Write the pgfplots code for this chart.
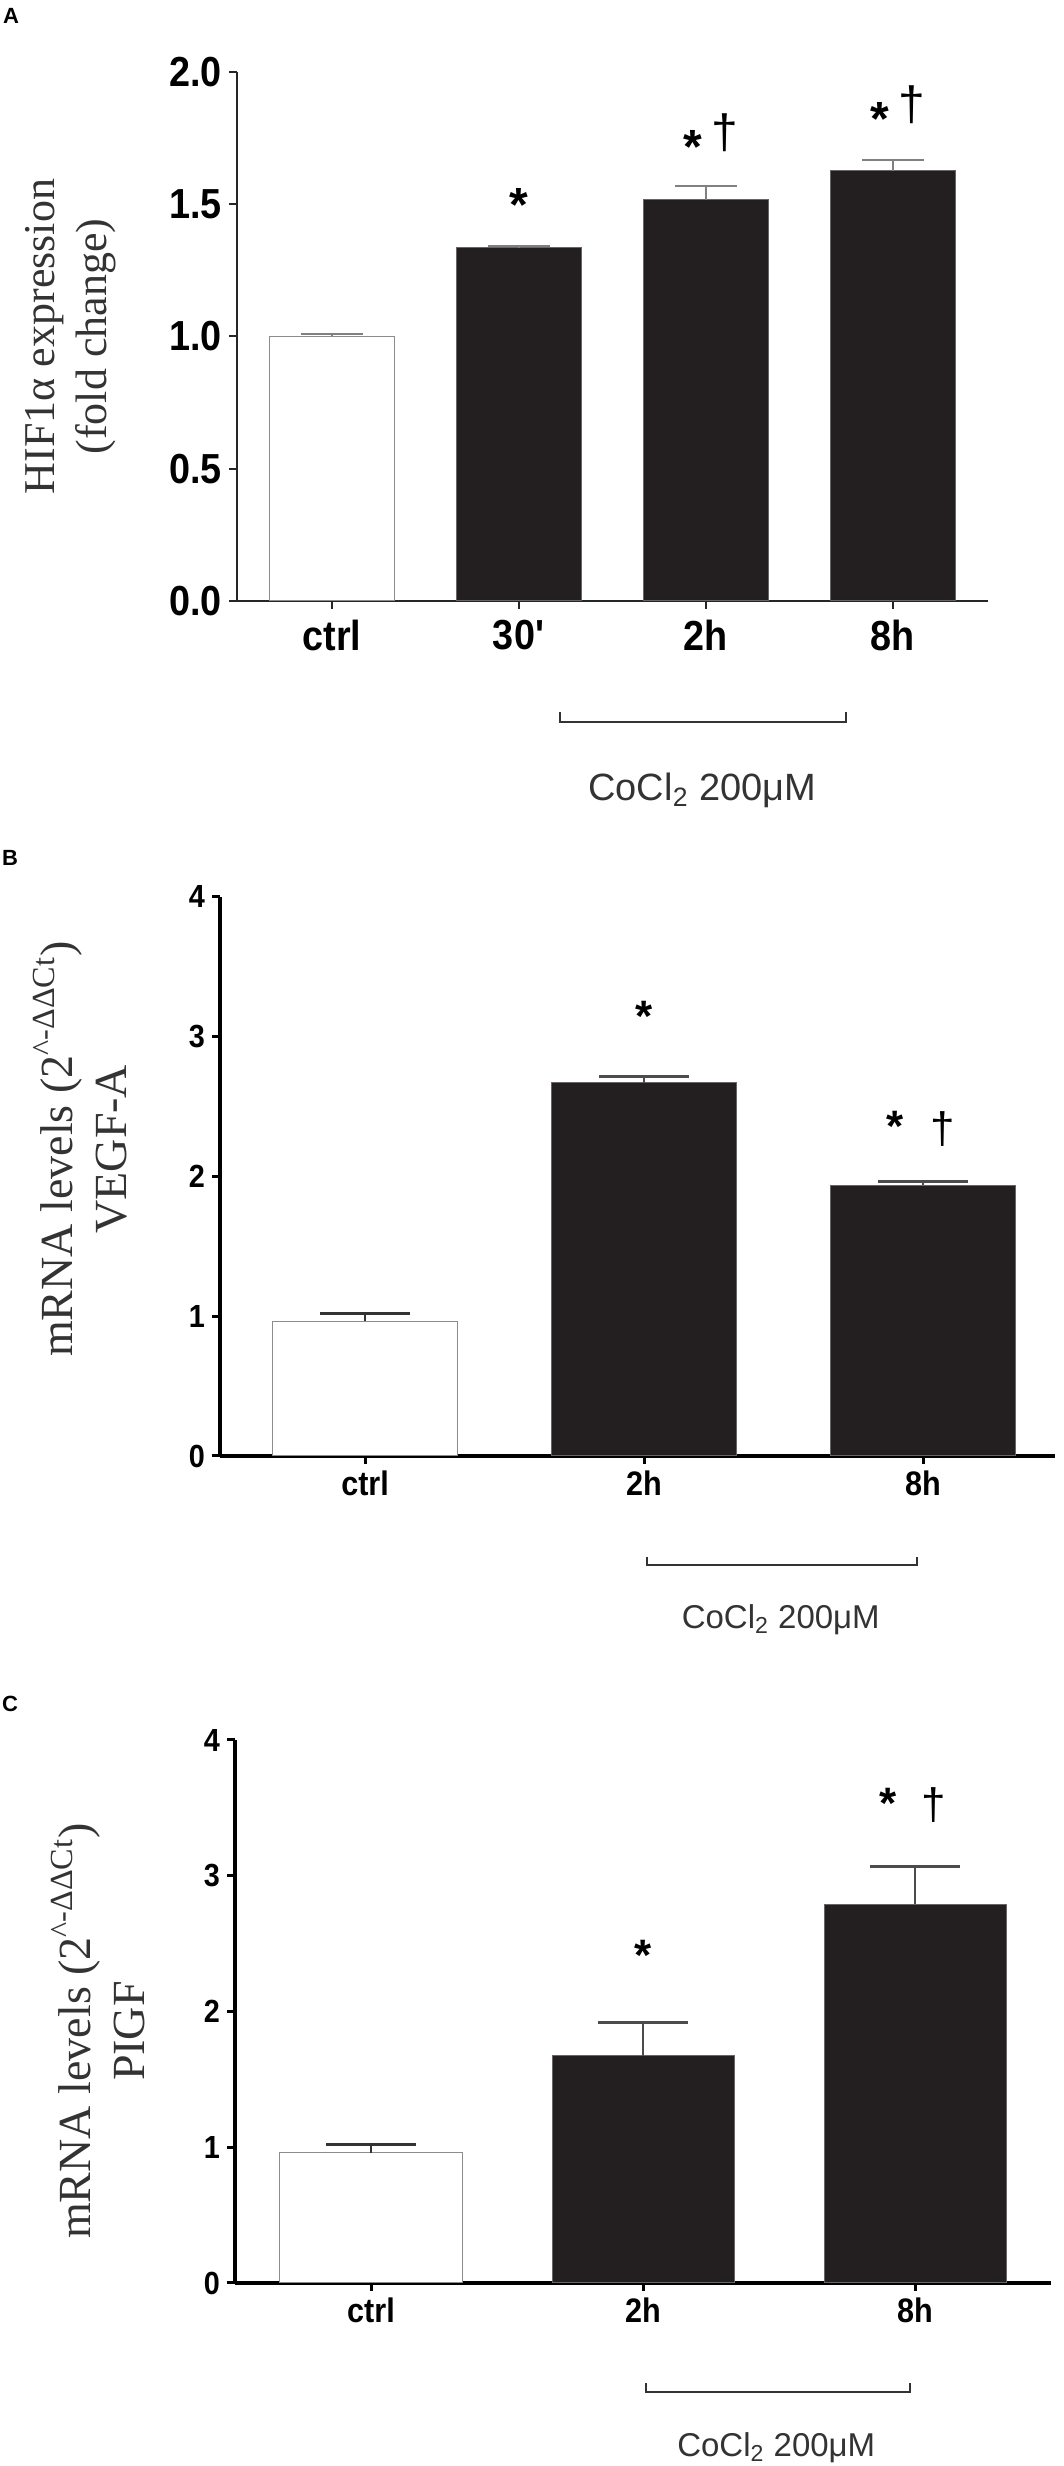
\documentclass[border=0pt]{standalone}
\usepackage{pgfplots}
\pgfplotsset{compat=1.18}
\usepackage{fontspec}
\setmainfont{Liberation Serif}
\newfontfamily\sansf{Liberation Sans}
\newfontfamily\tickf[FakeStretch=0.9]{Liberation Sans}
\definecolor{barblack}{HTML}{231F20}
\definecolor{txtgray}{HTML}{333333}

\pgfplotsset{
  panel/.style={
    scale only axis,
    axis x line=bottom, axis y line=left,
    ymin=0, clip=false,
    ybar, bar shift=0pt,
    tick align=outside,
    major tick length=4pt,
    xtick pos=bottom, ytick pos=left,
    anchor=south west,
  },
  whitebar/.style={fill=white, draw=black!45, line width=0.5pt},
  blackbar/.style={fill=barblack, draw=black!60, line width=0.5pt},
}

\begin{document}
\begin{tikzpicture}
\useasboundingbox (0,0) rectangle (532pt,1233pt);

% ---------- A ----------
\begin{axis}[panel,
  at={(118.5pt,932.5pt)}, width=375.5pt, height=264.5pt,
  xmin=-0.508, xmax=3.508, ymax=2,
  bar width=62.5pt,
  axis line style={-, line width=1pt, draw=black!85},
  tick style={line width=1pt, draw=black!85},
  xtick={0,1,2,3}, xticklabels={ctrl,30\textquotesingle,2h,8h},
  ytick={0,0.5,1,1.5,2}, yticklabels={0.0,0.5,1.0,1.5,2.0},
  ticklabel style={font=\tickf\bfseries\fontsize{21}{24}\selectfont},
  xticklabel style={yshift=-2pt},
  ylabel={HIF1α expression\\(fold change)},
  ylabel style={at={(rel axis cs:-0.222,0.5)}, anchor=center, rotate=0,
    align=center, font=\fontsize{22}{26}\selectfont, text=black!80},
]
\addplot[whitebar, error bars/.cd, y dir=plus, y explicit, error mark=|,
  error bar style={line width=1pt, draw=gray},
  error mark options={line width=1pt, draw=gray, mark size=15.5pt}]
  coordinates {(0,1.0) +- (0,0.008)};
\addplot[blackbar, error bars/.cd, y dir=plus, y explicit, error mark=|,
  error bar style={line width=1pt, draw=gray},
  error mark options={line width=1pt, draw=gray, mark size=15.5pt}]
  coordinates {(1,1.335) +- (0,0.007) (2,1.516) +- (0,0.053) (3,1.626) +- (0,0.041)};
\node[anchor=north, inner sep=0, font=\sansf\bfseries\fontsize{24}{24}\selectfont] at (axis cs:1,1.561) {*};
\node[anchor=north, inner sep=0, font=\sansf\bfseries\fontsize{24}{24}\selectfont] at (axis cs:1.93,1.781) {*};
\node[anchor=north, inner sep=0, font=\sansf\fontsize{24}{24}\selectfont] at (axis cs:2.10,1.845) {†};
\node[anchor=north, inner sep=0, font=\sansf\bfseries\fontsize{24}{24}\selectfont] at (axis cs:2.93,1.885) {*};
\node[anchor=north, inner sep=0, font=\sansf\fontsize{24}{24}\selectfont] at (axis cs:3.10,1.950) {†};
\draw[line width=1pt, txtgray] (axis cs:1.22,-0.42) -- (axis cs:1.22,-0.457) -- (axis cs:2.75,-0.457) -- (axis cs:2.75,-0.42);
\node[font=\sansf\fontsize{19}{22}\selectfont, text=txtgray] at (axis cs:1.98,-0.715) {CoCl\textsubscript{2} 200μM};
\end{axis}

% ---------- B ----------
\begin{axis}[panel,
  at={(110pt,505pt)}, width=417.5pt, height=279.5pt,
  xmin=-0.52, xmax=2.473, ymax=4,
  bar width=92.5pt,
  axis line style={-, line width=2pt, draw=black},
  tick style={line width=1.5pt, draw=black},
  xtick={0,1,2}, xticklabels={ctrl,2h,8h},
  ytick={0,1,2,3,4}, yticklabels={0,1,2,3,4},
  xticklabel style={font=\tickf\bfseries\fontsize{17}{20}\selectfont},
  yticklabel style={font=\tickf\bfseries\fontsize{16}{19}\selectfont},
  ylabel={mRNA levels (2\textsuperscript{\textasciicircum-ΔΔCt})\\VEGF-A},
  ylabel style={at={(rel axis cs:-0.168,0.549)}, anchor=center,
    align=center, font=\fontsize{23}{27}\selectfont, text=black!80},
]
\addplot[whitebar, error bars/.cd, y dir=plus, y explicit, error mark=|,
  error bar style={line width=0.8pt, draw=black!80},
  error mark options={line width=1.4pt, draw=black!80, mark size=22.5pt}]
  coordinates {(0,0.965) +- (0,0.055)};
\addplot[blackbar, error bars/.cd, y dir=plus, y explicit, error mark=|,
  error bar style={line width=0.8pt, draw=black!70},
  error mark options={line width=1.4pt, draw=black!70, mark size=22.5pt}]
  coordinates {(1,2.67) +- (0,0.045) (2,1.936) +- (0,0.03)};
\node[anchor=north, inner sep=0, font=\sansf\bfseries\fontsize{22}{22}\selectfont] at (axis cs:1,3.26) {*};
\node[anchor=north, inner sep=0, font=\sansf\bfseries\fontsize{22}{22}\selectfont] at (axis cs:1.90,2.47) {*};
\node[anchor=north, inner sep=0, font=\sansf\fontsize{22}{22}\selectfont] at (axis cs:2.07,2.47) {†};
\draw[line width=1pt, txtgray] (axis cs:1.01,-0.72) -- (axis cs:1.01,-0.78) -- (axis cs:1.98,-0.78) -- (axis cs:1.98,-0.72);
\node[font=\sansf\fontsize{16.5}{20}\selectfont, text=txtgray] at (axis cs:1.49,-1.17) {CoCl\textsubscript{2} 200μM};
\end{axis}

% ---------- C ----------
\begin{axis}[panel,
  at={(117.5pt,91.5pt)}, width=408pt, height=271.5pt,
  xmin=-0.5, xmax=2.5, ymax=4,
  bar width=91pt,
  axis line style={-, line width=2pt, draw=black},
  tick style={line width=1.5pt, draw=black},
  xtick={0,1,2}, xticklabels={ctrl,2h,8h},
  ytick={0,1,2,3,4}, yticklabels={0,1,2,3,4},
  xticklabel style={font=\tickf\bfseries\fontsize{17}{20}\selectfont},
  yticklabel style={font=\tickf\bfseries\fontsize{16}{19}\selectfont},
  ylabel={mRNA levels (2\textsuperscript{\textasciicircum-ΔΔCt})\\PIGF},
  ylabel style={at={(rel axis cs:-0.168,0.464)}, anchor=center,
    align=center, font=\fontsize{23}{27}\selectfont, text=black!80},
]
\addplot[whitebar, error bars/.cd, y dir=plus, y explicit, error mark=|,
  error bar style={line width=0.8pt, draw=black!80},
  error mark options={line width=1.4pt, draw=black!80, mark size=22.5pt}]
  coordinates {(0,0.96) +- (0,0.06)};
\addplot[blackbar, error bars/.cd, y dir=plus, y explicit, error mark=|,
  error bar style={line width=0.8pt, draw=black!70},
  error mark options={line width=1.4pt, draw=black!70, mark size=22.5pt}]
  coordinates {(1,1.675) +- (0,0.245) (2,2.79) +- (0,0.28)};
\node[anchor=north, inner sep=0, font=\sansf\bfseries\fontsize{22}{22}\selectfont] at (axis cs:1,2.53) {*};
\node[anchor=north, inner sep=0, font=\sansf\bfseries\fontsize{22}{22}\selectfont] at (axis cs:1.90,3.65) {*};
\node[anchor=north, inner sep=0, font=\sansf\fontsize{22}{22}\selectfont] at (axis cs:2.07,3.65) {†};
\draw[line width=1pt, txtgray] (axis cs:1.01,-0.74) -- (axis cs:1.01,-0.80) -- (axis cs:1.98,-0.80) -- (axis cs:1.98,-0.74);
\node[font=\sansf\fontsize{16.5}{20}\selectfont, text=txtgray] at (axis cs:1.49,-1.21) {CoCl\textsubscript{2} 200μM};
\end{axis}

% panel letters
\node[font=\sansf\bfseries\fontsize{11}{13}\selectfont] at (5.5pt,1225pt) {A};
\node[font=\sansf\bfseries\fontsize{11}{13}\selectfont] at (5pt,804pt) {B};
\node[font=\sansf\bfseries\fontsize{11}{13}\selectfont] at (5pt,381pt) {C};
\end{tikzpicture}
\end{document}
